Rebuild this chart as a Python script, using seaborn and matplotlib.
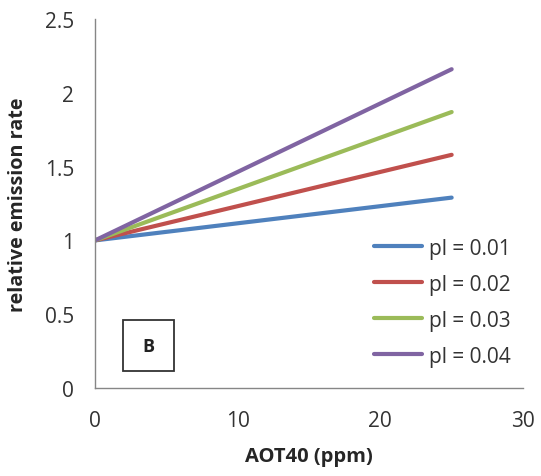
import matplotlib
matplotlib.use("Agg")
import matplotlib.pyplot as plt
from matplotlib.patches import Rectangle
import numpy as np
import pandas as pd
import seaborn as sns

# relative emission rate vs AOT40 for four pl values
aot40 = [0, 25]
series_labels = ['pl = 0.01', 'pl = 0.02', 'pl = 0.03', 'pl = 0.04']
rate_01 = [1.0, 1.29]
rate_02 = [1.0, 1.58]
rate_03 = [1.0, 1.87]
rate_04 = [1.0, 2.16]
x_ticks = [0, 10, 20, 30]
y_ticks = [0, 0.5, 1, 1.5, 2, 2.5]
y_tick_labels = ['0', '0.5', '1', '1.5', '2', '2.5']

colors = ['#4F81BD', '#C0504D', '#9BBB59', '#8064A2']

rows = []
for label, vals in zip(series_labels, [rate_01, rate_02, rate_03, rate_04]):
    for x, y in zip(aot40, vals):
        rows.append({'AOT40': x, 'rate': y, 'series': label})
df = pd.DataFrame(rows)

sns.set_style('white')
plt.rcParams['font.family'] = ['Open Sans', 'DejaVu Sans']

fig = plt.figure(figsize=(5.41, 4.77), dpi=100)
ax = fig.add_axes([0.1756, 0.1845, 0.7911, 0.7735])

sns.lineplot(data=df, x='AOT40', y='rate', hue='series', palette=colors,
             linewidth=3, ax=ax, legend=True, solid_capstyle='round')

ax.set_xlim(0, 30)
ax.set_ylim(0, 2.5)
ax.set_xticks(x_ticks)
ax.set_yticks(y_ticks)
ax.set_yticklabels(y_tick_labels)

for side in ['top', 'right']:
    ax.spines[side].set_visible(False)
for side in ['left', 'bottom']:
    ax.spines[side].set_color('#868686')
    ax.spines[side].set_linewidth(1)

ax.tick_params(axis='both', direction='out', length=5, width=1, color='#868686',
               labelsize=15, labelcolor='#333333')
ax.tick_params(axis='y', pad=10)
ax.tick_params(axis='x', pad=11)

ax.set_xlabel('AOT40 (ppm)', fontsize=14.5, fontweight='bold', labelpad=11)
ax.set_ylabel('relative emission rate', fontsize=14.2, fontweight='bold', labelpad=12)

leg = ax.legend(loc='center left', bbox_to_anchor=(0.653, 0.233), frameon=False,
                fontsize=15, handlelength=2.3, handletextpad=0.3,
                labelspacing=0.72, borderpad=0, borderaxespad=0, title=None)
for t in leg.get_texts():
    t.set_color('#333333')
for h in leg.get_lines():
    h.set_linewidth(3)

ax.add_patch(Rectangle((0.0653, 0.046), 0.119, 0.138, transform=ax.transAxes,
                       facecolor='white', edgecolor='#333333', linewidth=1.3))
ax.text(0.0653 + 0.0595, 0.046 + 0.069, 'B', transform=ax.transAxes, fontsize=13,
        fontweight='bold', ha='center', va='center', color='#222222')

plt.savefig('out.png', dpi=100)
